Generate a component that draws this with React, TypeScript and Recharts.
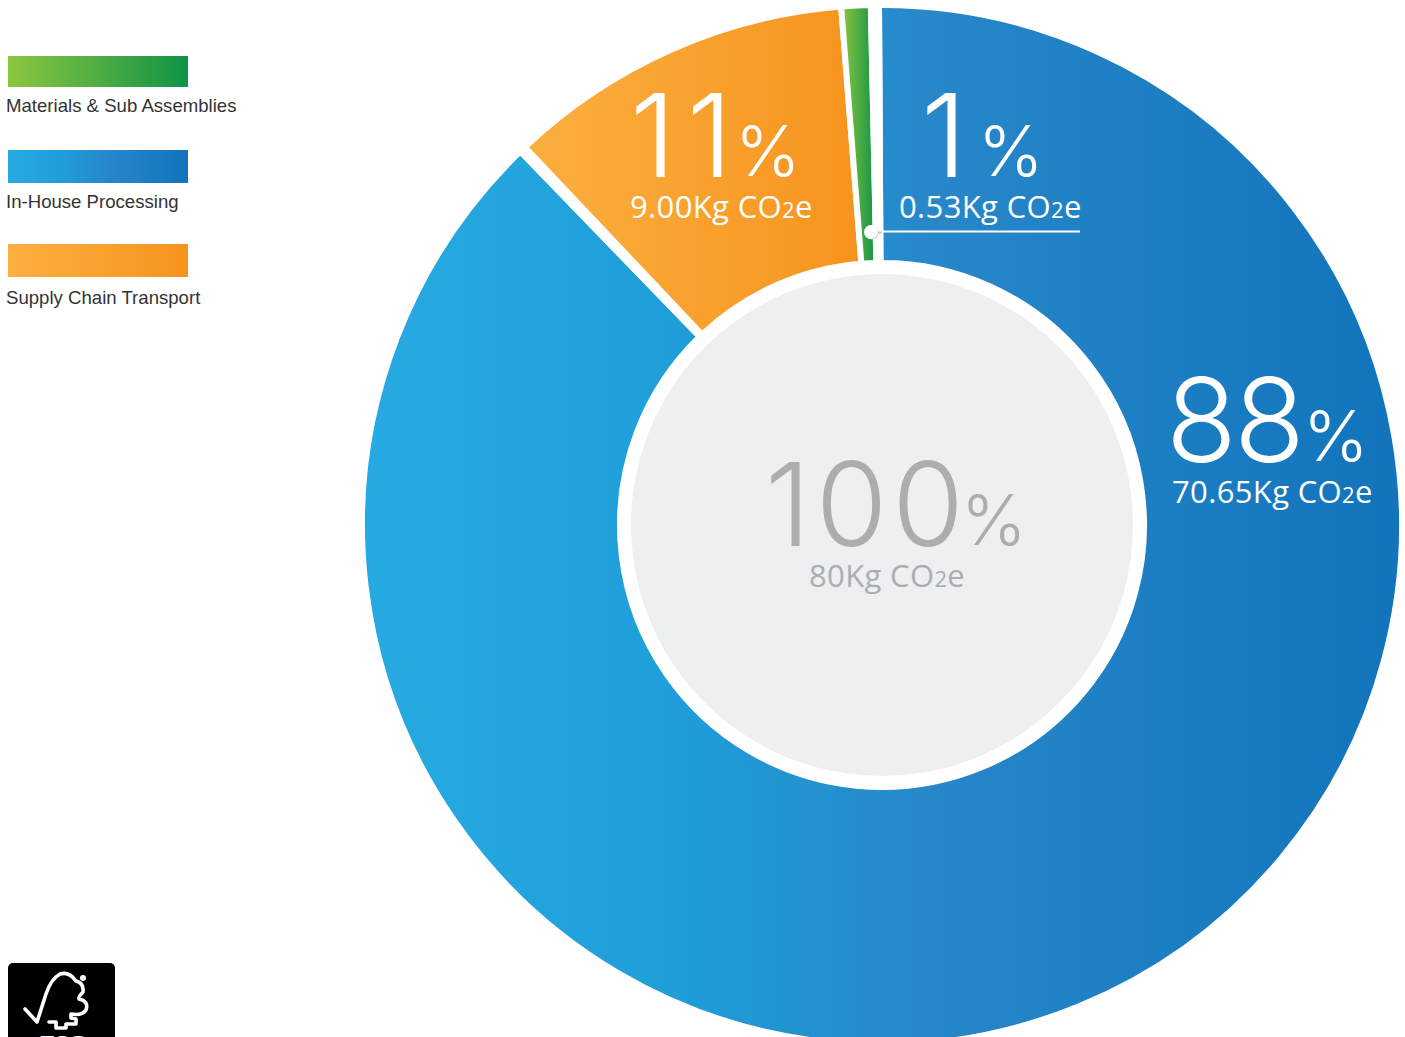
import React from 'react';
import { PieChart, Pie, Cell } from 'recharts';

// shares as drawn on the ring, clockwise from 12 o'clock (the gap entries are the wider white gaps)
const sliceNames = ['In-House Processing', 'gap left', 'Supply Chain Transport', 'Materials & Sub Assemblies', 'gap top'];
const sliceShares = [87.85, 0.19, 10.8, 0.91, 0.25];
const sliceFills = ['url(#gradBlue)', '#ffffff', 'url(#gradOrange)', 'url(#gradGreen)', '#ffffff'];
const centerShare = [100];

const legendNames = ['Materials & Sub Assemblies', 'In-House Processing', 'Supply Chain Transport'];
const legendGradients = [
  'linear-gradient(to right, #8DC63F, #0F9347)',
  'linear-gradient(to right, #27AAE1, #1F9ED9 30%, #2787C9 55%, #1174BC)',
  'linear-gradient(to right, #FBB040, #F7931E)',
];

const pieData = sliceNames.map((name, i) => ({ name, value: sliceShares[i] }));
const centerData = centerShare.map(value => ({ name: 'Total', value }));

const BIG_FONT = 'Inter, sans-serif';
const SUB_FONT = '"Open Sans", sans-serif';

const Callout = ({ x, y, big, pctX, sub, fill, subX, spacing = -3 }: any) => (
  <g fill={fill}>
    <text x={x} y={y} fontFamily={BIG_FONT} fontSize={116} fontWeight={300} letterSpacing={spacing}>{big}</text>
    <text x={pctX} y={y - 1} fontFamily={BIG_FONT} fontSize={70} fontWeight={300}>%</text>
    <text x={subX} y={y + 40.5} fontFamily={SUB_FONT} fontSize={31} letterSpacing={0.35}>
      {sub}
      <tspan fontSize={22}>2</tspan>e
    </text>
  </g>
);

const ChartLegend = () => (
  <>
    {legendNames.map((name, i) => (
      <div key={name} style={{ position: 'absolute', left: 0, top: [56, 150, 244][i] }}>
        <div style={{ marginLeft: 8, width: 180, height: i === 0 ? 31 : 33, background: legendGradients[i] }} />
        <div style={{
          position: 'absolute', left: 6, top: [39, 41, 43][i], whiteSpace: 'nowrap',
          fontFamily: '"Liberation Sans", Arial, sans-serif', fontSize: 18.6, color: '#333',
        }}>{name}</div>
      </div>
    ))}
  </>
);

const FscLogo = () => (
  <svg width={130} height={87} style={{ position: 'absolute', left: 0, top: 950 }}>
    <rect x={8} y={13} width={107} height={90} rx={5} fill="#000" />
    <path
      d="M25 59 L37 72 L46 44 Q51 29 60 24 Q69 21 76 31 Q84 33 83 42 Q78 47 79 49 Q89 51 86 60 Q82 66 71 64 L71 68 L76 69 L76 74 L66 74 L66 78 L56 78 L56 72 L49 72"
      fill="none" stroke="#fff" strokeWidth={3.6} strokeLinejoin="round" strokeLinecap="round"
    />
    <circle cx={83} cy={28} r={3} fill="#fff" />
    <text x={63} y={101} textAnchor="middle" fontFamily="Liberation Serif, serif" fontWeight={700} fontSize={24} fill="#fff">FSC</text>
  </svg>
);

export default function App() {
  return (
    <div style={{ position: 'absolute', left: 0, top: 0, width: 1405, height: 1037, overflow: 'hidden', background: '#fff' }}>
      <ChartLegend />
      <FscLogo />
      <div style={{ position: 'absolute', left: 0, top: 0 }}>
        <PieChart width={1405} height={1037} margin={{ top: 0, right: 0, bottom: 0, left: 0 }}>
          <defs>
            <linearGradient id="gradBlue" x1="0" y1="0" x2="1" y2="0">
              <stop offset="0%" stopColor="#27AAE1" />
              <stop offset="30%" stopColor="#1F9ED9" />
              <stop offset="55%" stopColor="#2787C9" />
              <stop offset="100%" stopColor="#1174BC" />
            </linearGradient>
            <linearGradient id="gradOrange" x1="0" y1="0" x2="1" y2="0">
              <stop offset="0%" stopColor="#FBB040" />
              <stop offset="100%" stopColor="#F7931E" />
            </linearGradient>
            <linearGradient id="gradGreen" x1="0" y1="0" x2="1" y2="0">
              <stop offset="0%" stopColor="#8DC63F" />
              <stop offset="100%" stopColor="#0F9347" />
            </linearGradient>
          </defs>
          <Pie
            data={pieData}
            dataKey="value"
            nameKey="name"
            cx={882}
            cy={525}
            innerRadius={262}
            outerRadius={520}
            startAngle={90.33}
            endAngle={-269.67}
            stroke="#fff"
            strokeWidth={6}
            isAnimationActive={false}
          >
            {pieData.map((d, i) => <Cell key={d.name} fill={sliceFills[i]} />)}
          </Pie>
          <Pie
            data={centerData}
            dataKey="value"
            cx={882}
            cy={525}
            innerRadius={0}
            outerRadius={251}
            stroke="none"
            fill="#EEEFF1"
            isAnimationActive={false}
          />
        </PieChart>
      </div>
      {/* labels sit above the pie layer */}
      <svg width={1405} height={1037} style={{ position: 'absolute', left: 0, top: 0, pointerEvents: 'none' }}>
        <Callout x={1166} y={462} big="88" pctX={1303} sub="70.65Kg CO" fill="#fff" subX={1172} />
        <Callout x={630} y={177} big="11" pctX={735} sub="9.00Kg CO" fill="#fff" subX={630} spacing={11} />
        <Callout x={921} y={177} big="1" pctX={978} sub="0.53Kg CO" fill="#fff" subX={899} />
        <Callout x={765} y={546} big="100" pctX={961} sub="80Kg CO" fill="#ABADAF" subX={809} spacing={5} />
        <line x1={878} y1={232.5} x2={882} y2={232.5} stroke="#c8c8c8" strokeWidth={2} />
        <line x1={882} y1={231.5} x2={1080} y2={231.5} stroke="#fff" strokeWidth={2} />
        <circle cx={871.6} cy={232.6} r={7} fill="#bdbdbd" />
        <circle cx={871} cy={232} r={7} fill="#fff" />
      </svg>
    </div>
  );
}
